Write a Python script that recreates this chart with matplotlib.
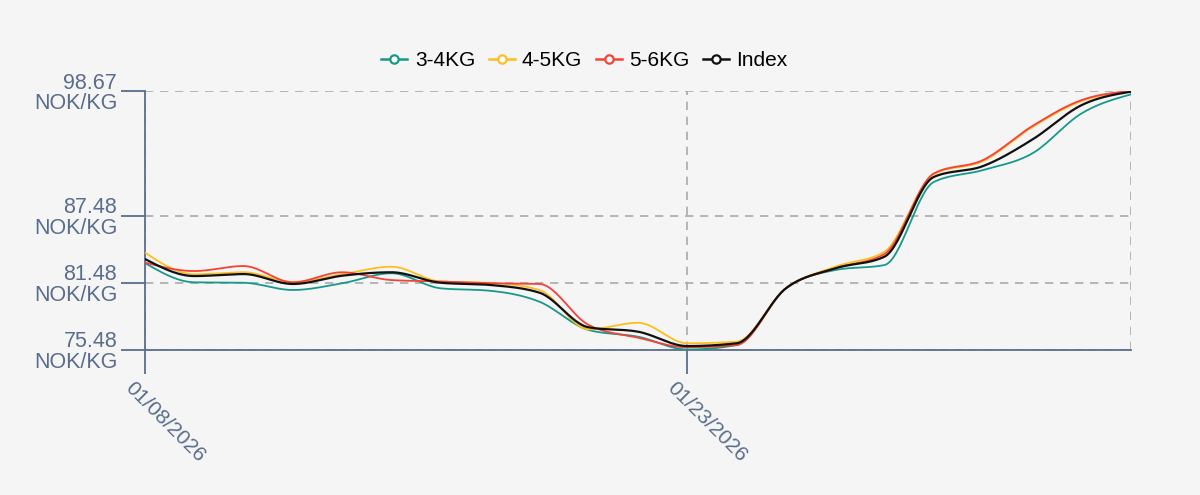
import numpy as np
import matplotlib
matplotlib.use("Agg")
import matplotlib.pyplot as plt
import matplotlib.transforms as mtransforms
from matplotlib.lines import Line2D

plt.rcParams['font.family'] = ['Liberation Sans', 'DejaVu Sans']

# trading days shown on the chart
dates = ['01/08/2026', '01/09/2026', '01/12/2026', '01/13/2026', '01/14/2026',
         '01/15/2026', '01/16/2026', '01/19/2026', '01/20/2026', '01/21/2026',
         '01/22/2026', '01/23/2026', '01/26/2026', '01/27/2026', '01/28/2026',
         '01/29/2026', '01/30/2026', '02/02/2026', '02/03/2026', '02/04/2026',
         '02/05/2026']
shown_dates = ['01/08/2026', '01/23/2026']

kg_3_4 = [83.24, 81.51, 81.47, 80.82, 81.42, 82.32, 80.97, 80.75, 79.77, 77.23,
          76.63, 75.48, 75.88, 80.97, 82.61, 83.06, 90.51, 91.58, 93.08, 96.67, 98.37]
kg_4_5 = [84.18, 82.23, 82.41, 81.54, 82.23, 82.91, 81.58, 81.47, 80.82, 77.29,
          77.88, 76.04, 76.18, 80.97, 82.91, 84.25, 91.22, 92.39, 95.44, 97.77, 98.67]
kg_5_6 = [83.28, 82.52, 82.97, 81.51, 82.41, 81.71, 81.58, 81.42, 81.36, 77.68,
          76.54, 75.68, 75.88, 80.97, 82.76, 84.05, 91.27, 92.48, 95.53, 97.86, 98.67]
index = [83.60, 82.07, 82.25, 81.36, 82.10, 82.41, 81.47, 81.27, 80.58, 77.47,
         77.08, 75.79, 76.04, 80.97, 82.76, 83.81, 90.96, 91.94, 94.32, 97.41, 98.61]

y_ticks = [75.48, 81.48, 87.48, 98.67]

series = [('3-4KG', kg_3_4, '#17998a', 1.3),
          ('4-5KG', kg_4_5, '#fcbf1e', 1.3),
          ('5-6KG', kg_5_6, '#f44336', 1.3),
          ('Index', index, '#111111', 1.6)]


def monotone(x, y, n=30):
    # monotone cubic like d3.curveMonotoneX
    x = np.asarray(x, float)
    y = np.asarray(y, float)
    h = np.diff(x)
    s = np.diff(y) / h
    t = np.zeros(len(x))
    for i in range(1, len(x) - 1):
        p = (s[i - 1] * h[i] + s[i] * h[i - 1]) / (h[i - 1] + h[i])
        t[i] = (np.sign(s[i - 1]) + np.sign(s[i])) * min(abs(s[i - 1]), abs(s[i]), 0.5 * abs(p))
    t[0] = (3 * s[0] - t[1]) / 2
    t[-1] = (3 * s[-1] - t[-2]) / 2
    xs, ys = [], []
    for i in range(len(x) - 1):
        u = np.linspace(0, 1, n, endpoint=False)
        h00 = 2 * u**3 - 3 * u**2 + 1
        h10 = u**3 - 2 * u**2 + u
        h01 = -2 * u**3 + 3 * u**2
        h11 = u**3 - u**2
        xs.append(x[i] + u * h[i])
        ys.append(h00 * y[i] + h10 * h[i] * t[i] + h01 * y[i + 1] + h11 * h[i] * t[i + 1])
    xs.append([x[-1]])
    ys.append([y[-1]])
    return np.concatenate(xs), np.concatenate(ys)


bg = '#f5f5f5'
axis_col = '#5a6d8c'

fig = plt.figure(figsize=(12, 4.95), dpi=100, facecolor=bg)
ax = fig.add_axes([0.1208, 0.2939, 0.8217, 0.5222], facecolor=bg)

xpos = np.arange(len(dates))
for name, vals, col, lw in series:
    sx, sy = monotone(xpos, vals)
    ax.plot(sx, sy, color=col, lw=lw, solid_capstyle='round', zorder=3)

ax.set_xlim(0, len(dates) - 1)
ax.set_ylim(y_ticks[0], y_ticks[-1])

ax.set_yticks(y_ticks)
ax.set_yticklabels(['%.2f\nNOK/KG' % v for v in y_ticks], color=axis_col,
                   fontsize=15.5, linespacing=0.98)
ax.set_xticks([dates.index(d) for d in shown_dates])
ax.set_xticklabels(shown_dates, color=axis_col, fontsize=15, rotation=-45,
                   ha='left', va='center', rotation_mode='anchor')

ax.tick_params(axis='y', length=17, width=1.3, color=axis_col, pad=3)
ax.tick_params(axis='x', length=17, width=1.3, color=axis_col, pad=10)
shift = mtransforms.ScaledTranslation(-0.17, 0.02, fig.dpi_scale_trans)
for lab in ax.get_xticklabels():
    lab.set_transform(lab.get_transform() + shift)

ax.grid(True, color='#aaaaaa', lw=1.2, ls=(0, (5, 4)))
ax.axvline(len(dates) - 1, color='#aaaaaa', lw=1.2, ls=(0, (5, 4)))

for side in ['top', 'right']:
    ax.spines[side].set_visible(False)
for side in ['left', 'bottom']:
    ax.spines[side].set_color(axis_col)
    ax.spines[side].set_linewidth(1.3)

handles = [Line2D([0], [0], color=col, lw=1.8, marker='o', markersize=6,
                  markerfacecolor='white', markeredgewidth=1.6, markeredgecolor=col)
           for name, vals, col, lw in series]
fig.legend(handles, [s[0] for s in series], loc='center', bbox_to_anchor=(0.487, 0.877),
           ncol=4, frameon=False, fontsize=15, handlelength=1.25, handletextpad=0.35,
           columnspacing=0.65)

fig.savefig('out.png', dpi=100, facecolor=bg)
